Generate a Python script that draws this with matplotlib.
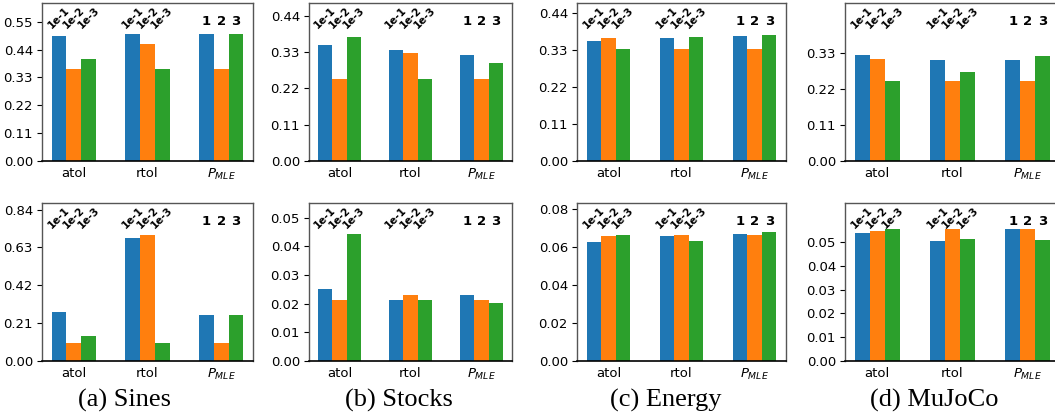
import matplotlib
matplotlib.use("Agg")
import matplotlib.pyplot as plt
import numpy as np

# ---------------- data ----------------
groups = ["atol", "rtol", r"$P_{MLE}$"]
tol_labels = ["1e-1", "1e-2", "1e-3"]
order_labels = ["1", "2", "3"]
captions = ["(a) Sines", "(b) Stocks", "(c) Energy", "(d) MuJoCo"]

# each panel: values[group][setting]
sines_top = [[0.495, 0.364, 0.404], [0.500, 0.461, 0.364], [0.500, 0.364, 0.500]]
stocks_top = [[0.351, 0.250, 0.375], [0.336, 0.326, 0.250], [0.320, 0.250, 0.296]]
energy_top = [[0.356, 0.365, 0.332], [0.365, 0.332, 0.368], [0.371, 0.332, 0.374]]
mujoco_top = [[0.324, 0.309, 0.245], [0.306, 0.245, 0.272], [0.306, 0.245, 0.321]]

sines_bot = [[0.271, 0.100, 0.140], [0.681, 0.700, 0.100], [0.255, 0.100, 0.255]]
stocks_bot = [[0.0250, 0.0212, 0.0443], [0.0212, 0.0230, 0.0212], [0.0230, 0.0212, 0.0202]]
energy_bot = [[0.0625, 0.0656, 0.0662], [0.0656, 0.0662, 0.0630], [0.0667, 0.0662, 0.0677]]
mujoco_bot = [[0.0536, 0.0545, 0.0553], [0.0503, 0.0553, 0.0511], [0.0553, 0.0553, 0.0507]]

top_ticks = [[0, 0.11, 0.22, 0.33, 0.44, 0.55],
             [0, 0.11, 0.22, 0.33, 0.44],
             [0, 0.11, 0.22, 0.33, 0.44],
             [0, 0.11, 0.22, 0.33]]
bot_ticks = [[0, 0.21, 0.42, 0.63, 0.84],
             [0, 0.01, 0.02, 0.03, 0.04, 0.05],
             [0, 0.02, 0.04, 0.06, 0.08],
             [0, 0.01, 0.02, 0.03, 0.04, 0.05]]

# ---------------- layout / style ----------------
top_ylim = [0.624, 0.479, 0.470, 0.481]
bot_ylim = [0.877, 0.0551, 0.0831, 0.0663]

W, H = 1055, 418
fig = plt.figure(figsize=(W / 100, H / 100), dpi=100)

col_px = [(42, 253), (309, 512), (577, 786), (845, 1060)]
row_px = [(3, 161), (203, 361)]
cap_x = [124, 399, 666, 934]
colors = ["#1f77b4", "#ff7f0e", "#2ca02c"]
width = 0.2

top_data = [sines_top, stocks_top, energy_top, mujoco_top]
bot_data = [sines_bot, stocks_bot, energy_bot, mujoco_bot]


def draw(ax, vals, ticks, ylim):
    vals = np.array(vals)
    x = np.arange(len(groups))
    for k in range(3):
        ax.bar(x + (k - 1) * width, vals[:, k], width, color=colors[k])
    ax.set_ylim(0, ylim)
    ax.set_yticks(ticks)
    ax.set_yticklabels([f"{t:.2f}" for t in ticks], fontsize=9.5)
    ax.set_xticks(x)
    ax.set_xticklabels(groups, fontsize=9.5)
    ax.tick_params(axis="x", length=0, pad=4)
    ax.tick_params(axis="y", length=3.5, width=0.8, pad=3)
    for s in ["left", "top", "right"]:
        ax.spines[s].set_color("#555555")
        ax.spines[s].set_linewidth(1.0)
    ax.spines["bottom"].set_color("black")
    ax.spines["bottom"].set_linewidth(1.2)
    tr = ax.get_xaxis_transform()
    for g in range(2):
        for k in range(3):
            ax.text(x[g] + (k - 1) * width, 0.905, tol_labels[k], rotation=45,
                    ha="center", va="center", fontsize=7.5, fontweight="bold",
                    transform=tr)
    for k in range(3):
        ax.text(x[2] + (k - 1) * width, 0.88, order_labels[k],
                ha="center", va="center", fontsize=9.5, fontweight="bold",
                transform=tr)


for i in range(4):
    l, r = col_px[i]
    for j, (t, b) in enumerate(row_px):
        ax = fig.add_axes([l / W, 1 - b / H, (r - l) / W, (b - t) / H])
        if j == 0:
            draw(ax, top_data[i], top_ticks[i], top_ylim[i])
        else:
            draw(ax, bot_data[i], bot_ticks[i], bot_ylim[i])
    fig.text(cap_x[i] / W, 1 - 400 / H, captions[i], ha="center", va="center",
             fontsize=19, family="Liberation Serif")

fig.savefig("out.png", dpi=100)
